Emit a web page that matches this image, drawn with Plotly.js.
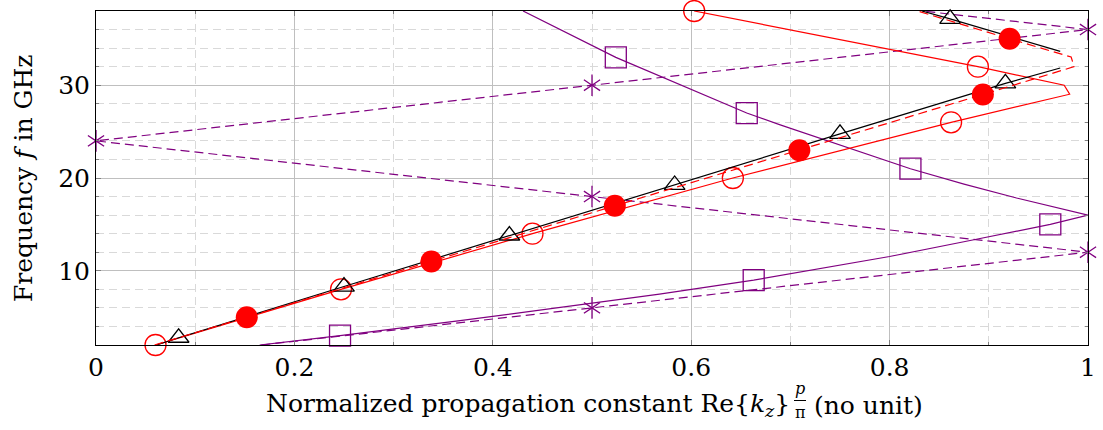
<!DOCTYPE html>
<html>
<head>
<meta charset="utf-8">
<script src="https://cdn.plot.ly/plotly-3.0.1.min.js"></script>
<style>
  html, body { margin: 0; padding: 0; background: #ffffff; }
  #chart { width: 1103px; height: 430px; }
</style>
</head>
<body>
<div id="chart"></div>
<script>
// Dispersion diagram: frequency versus normalized propagation constant.
// Each series is a polyline; the mark flags say which vertices carry a marker.

// Black solid, open triangles (two branches)
const blackLowX = [0.061, 0.0833, 0.25, 0.4167, 0.5833, 0.75, 0.9167, 0.972];
const blackLowY = [2, 2.78, 8.3, 13.8, 19.25, 24.75, 30.2, 31.86];
const blackLowMark = [0, 1, 1, 1, 1, 1, 1, 0];
const blackUpX = [0.8325, 0.861, 0.972];
const blackUpY = [38, 37.15, 33.65];
const blackUpMark = [0, 1, 0];

// Red solid, open circles
const redSolidX = [0.060, 0.247, 0.44, 0.642, 0.862, 0.9815, 0.976, 0.889, 0.603];
const redSolidY = [2, 8, 14, 20, 26, 29.03, 30.0, 32, 38];
const redSolidMark = [1, 1, 1, 1, 1, 0, 0, 1, 1];

// Red dashed, filled circles
const redDashX = [0.059, 0.152, 0.338, 0.523, 0.709, 0.894, 0.986, 0.983, 0.921, 0.828];
const redDashY = [2, 5, 11, 17, 23, 29, 32, 33.04, 35, 38];
const redDashMark = [0, 1, 1, 1, 1, 1, 0, 0, 1, 0];

// Violet solid, open squares
const violetSolidX = [0.165, 0.246, 0.367, 0.5, 0.568, 0.663, 0.8, 0.8875, 0.962, 1.0,
                      0.928, 0.875, 0.821, 0.689, 0.656, 0.524, 0.4305];
const violetSolidY = [2, 3, 4.62, 6.53, 7.49, 9, 11.54, 13.4, 15, 16,
                      17.84, 19.34, 21, 25.75, 27, 33, 38];
const violetSolidMark = [0, 1, 0, 0, 0, 1, 0, 0, 1, 0, 0, 0, 1, 0, 1, 1, 0];

// Violet dashed, asterisks (folded light line)
const violetDashX = [0.1667, 0.5, 1, 0.5, 0, 0.5, 1, 0.8333];
const violetDashY = [2, 6, 12, 18, 24, 30, 36, 38];
const violetDashMark = [0, 1, 1, 1, 1, 1, 1, 0];

const VIOLET = '#800080';
const RED = '#ff0000';
const BLACK = '#000000';
const DASH = '9px,5px';

function pick(arr, flags) { return arr.filter((_, i) => flags[i]); }

function lineTrace(x, y, color, dash) {
  return { x: x, y: y, type: 'scatter', mode: 'lines', hoverinfo: 'skip',
           line: { color: color, width: 1.2, dash: dash || 'solid' }, cliponaxis: false };
}
function markTrace(x, y, flags, symbol, size, color, fill) {
  return { x: pick(x, flags), y: pick(y, flags), type: 'scatter', mode: 'markers',
           hoverinfo: 'skip', cliponaxis: false,
           marker: { symbol: symbol, size: size, color: color,
                     line: { color: color, width: fill ? 0 : 1.3 } } };
}

const traces = [
  lineTrace(violetSolidX, violetSolidY, VIOLET),
  markTrace(violetSolidX, violetSolidY, violetSolidMark, 'square-open', 21, VIOLET, false),
  lineTrace(violetDashX, violetDashY, VIOLET, DASH),
  markTrace(violetDashX, violetDashY, violetDashMark, 'y-up-open', 13.5, VIOLET, false),
  markTrace(violetDashX, violetDashY, violetDashMark, 'y-down-open', 13.5, VIOLET, false),
  lineTrace(redSolidX, redSolidY, RED),
  markTrace(redSolidX, redSolidY, redSolidMark, 'circle-open', 21, RED, false),
  lineTrace(blackLowX, blackLowY, BLACK),
  markTrace(blackLowX, blackLowY, blackLowMark, 'triangle-up-open', 18, BLACK, false),
  lineTrace(blackUpX, blackUpY, BLACK),
  markTrace(blackUpX, blackUpY, blackUpMark, 'triangle-up-open', 18, BLACK, false),
  lineTrace(redDashX, redDashY, RED, DASH),
  markTrace(redDashX, redDashY, redDashMark, 'circle', 22, RED, true)
];

const FONT = '"DejaVu Serif", serif';
const FS = 25;
const L = 96, R = 1088, T = 11, B = 345;
const px = v => (v - L) / (R - L);          // page x -> paper x
const py = v => (B - v) / (B - T);          // page y -> paper y

const axisCommon = {
  showline: true, linecolor: '#000000', linewidth: 1, mirror: 'ticks',
  ticks: 'inside', ticklen: 5, tickcolor: '#808080', tickwidth: 1,
  showgrid: true, gridcolor: '#bfbfbf', gridwidth: 1, zeroline: false,
  tickfont: { family: FONT, size: FS, color: '#000000' },
  fixedrange: true
};

const layout = {
  width: 1103, height: 430,
  margin: { l: L, r: 1103 - R, t: T, b: 430 - B },
  paper_bgcolor: '#ffffff', plot_bgcolor: '#ffffff',
  showlegend: false,
  xaxis: Object.assign({}, axisCommon, {
    range: [0, 1], tickmode: 'array',
    tickvals: [0, 0.2, 0.4, 0.6, 0.8, 1], ticktext: ['0', '0.2', '0.4', '0.6', '0.8', '1'],
    minor: { tickmode: 'array', tickvals: [0.1, 0.3, 0.5, 0.7, 0.9], ticks: 'inside', ticklen: 3,
             tickcolor: '#808080', showgrid: true, gridcolor: '#d9d9d9', griddash: '8px,5px', gridwidth: 1 }
  }),
  yaxis: Object.assign({}, axisCommon, {
    range: [2, 38], tickmode: 'array', tickvals: [10, 20, 30],
    minor: { tickmode: 'array', tickvals: [4, 6, 8, 12, 14, 16, 18, 22, 24, 26, 28, 32, 34, 36],
             ticks: 'inside', ticklen: 3, tickcolor: '#808080', showgrid: true,
             gridcolor: '#d9d9d9', griddash: '8px,5px', gridwidth: 1 }
  }),
  annotations: [
    { xref: 'paper', yref: 'paper', x: px(23), y: py(179), xanchor: 'center', yanchor: 'middle',
      textangle: -90, showarrow: false, text: 'Frequency <i>f</i> in GHz',
      font: { family: FONT, size: FS, color: '#000000' } },
    { xref: 'paper', yref: 'paper', x: px(792), y: py(405), xanchor: 'right', yanchor: 'middle',
      showarrow: false, text: 'Normalized propagation constant Re{<i>k</i><sub><i>z</i></sub>}',
      font: { family: FONT, size: FS, color: '#000000' } },
    { xref: 'paper', yref: 'paper', x: px(800), y: py(400), xanchor: 'center', yanchor: 'bottom',
      showarrow: false, text: '<i>p</i>', font: { family: FONT, size: 16, color: '#000000' } },
    { xref: 'paper', yref: 'paper', x: px(800), y: py(401), xanchor: 'center', yanchor: 'top',
      showarrow: false, text: 'π', font: { family: FONT, size: 16, color: '#000000' } },
    { xref: 'paper', yref: 'paper', x: px(812), y: py(405), xanchor: 'left', yanchor: 'middle',
      showarrow: false, text: '(no unit)', font: { family: FONT, size: FS, color: '#000000' } }
  ],
  shapes: [
    { type: 'line', xref: 'paper', yref: 'paper', x0: px(794), x1: px(806), y0: py(400.5), y1: py(400.5),
      line: { color: '#000000', width: 1 } }
  ]
};

Plotly.newPlot('chart', traces, layout, { displayModeBar: false, staticPlot: true });
</script>
</body>
</html>
